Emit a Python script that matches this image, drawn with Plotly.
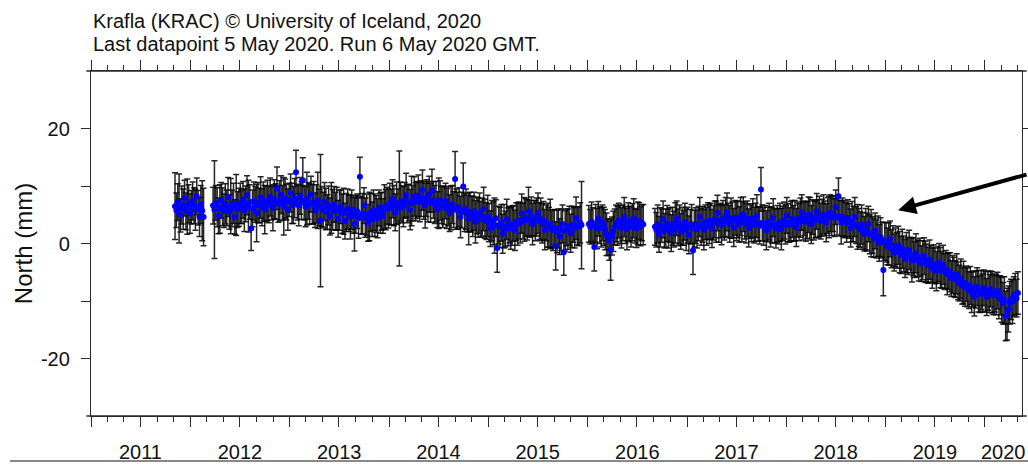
import plotly.graph_objects as go

# ---------------- data ----------------
station_title = "Krafla (KRAC) \u00a9 University of Iceland, 2020"
run_note = "Last datapoint 5 May 2020. Run 6 May 2020 GMT."
y_label = "North (mm)"

# observation segments (start dates); one sample every 5 days
segment_starts = ["2011-11-06", "2012-03-25", "2016-01-06", "2016-09-05"]
sample_step_days = 5

north_1 = [6.5, 5.8, 7.2, 6.1, 4.9, 6.7, 6.0, 7.9, 5.6, 6.4, 6.9, 5.2, 6.3, 7.4, 6.6, 5.9, 8.2, 6.2, 4.6, 6.8, 5.7, 4.6]
err_1 = [5.8, 3.0, 3.2, 6.0, 2.9, 3.3, 3.5, 3.1, 3.2, 4.8, 3.3, 3.4, 2.9, 3.3, 3.1, 3.6, 3.2, 3.0, 3.4, 3.3, 5.2, 5.0]

north_2 = [
    6.6, 5.9, 7.1, 6.3, 4.8, 6.0, 7.5, 6.4, 5.7, 6.9,
    6.2, 8.1, 5.5, 6.5, 6.1, 7.0, 4.6, 6.7, 5.9, 6.3,
    7.0, 6.4, 7.6, 5.8, 6.9, 8.4, 6.5, 7.2, 2.6, 6.1,
    7.4, 6.8, 5.3, 7.1, 6.6, 8.0, 6.3, 7.3, 5.9, 6.9,
    7.5, 6.8, 8.1, 7.0, 6.2, 7.7, 7.3, 9.6, 6.9, 7.4,
    8.5, 7.1, 6.5, 7.8, 7.2, 5.9, 7.6, 8.8, 7.0, 6.7,
    7.9, 12.4, 7.2, 6.6, 8.3, 7.5, 11.0, 7.1, 6.4, 7.8,
    7.4, 6.9, 8.6, 6.8, 7.1, 5.8, 6.9, 7.5, 6.3, 4.0,
    6.4, 5.8, 7.3, 6.0, 5.5, 6.6, 4.7, 6.2, 5.9, 6.8,
    5.6, 6.1, 4.3, 5.8, 6.4, 5.2, 5.6, 3.9, 5.4, 6.0,
    5.3, 4.6, 5.9, 4.9, 3.4, 5.1, 5.6, 4.4, 11.6, 4.8,
    5.2, 6.6, 4.5, 5.0, 3.6, 4.7, 5.4, 4.2, 5.8, 4.9,
    5.1, 4.4, 6.2, 5.3, 5.6, 4.8, 6.4, 5.9, 6.6, 6.1,
    6.9, 6.3, 7.8, 6.6, 5.4, 7.0, 6.5, 6.1, 7.3, 6.8,
    6.4, 7.5, 8.4, 6.9, 7.1, 5.9, 7.4, 7.0, 8.2, 7.3,
    7.6, 8.3, 7.2, 7.8, 9.3, 7.5, 6.6, 7.9, 7.3, 8.6,
    7.1, 9.2, 7.6, 6.8, 7.3, 5.9, 7.0, 7.5, 6.7, 6.4,
    6.6, 7.4, 6.1, 6.5, 5.3, 6.2, 6.8, 5.9, 11.2, 6.0,
    5.7, 6.3, 4.6, 5.8, 9.9, 5.4, 6.0, 5.2, 4.3, 5.5,
    5.1, 4.7, 5.6, 3.8, 4.9, 4.5, 5.3, 4.2, 4.6, 6.0,
    4.3, 3.9, 4.8, 3.6, 2.6, 4.0, 3.5, 3.1, 4.4, -0.8,
    3.2, 2.8, 3.6, 1.7, 3.0, 2.5, 4.2, 2.9, 3.3, 2.6,
    3.1, 3.5, 2.3, 3.8, 3.4, 4.0, 3.6, 5.2, 3.9, 4.2,
    4.5, 4.1, 5.6, 4.3, 4.7, 3.4, 4.4, 4.0, 4.6, 5.3,
    3.9, 4.2, 3.5, 4.0, 2.4, 3.6, 3.2, 2.8, 3.4, 2.5,
    2.3, 2.7, -0.4, 2.1, 2.6, 1.2, 2.4, 3.4, -1.5, 2.2,
    2.8, 2.5, 3.1, 1.8, 2.9, 3.3, 2.7, 4.4, 3.1, 3.0,
    3.6, 3.2,
]
err_2 = [
    3.2, 8.5, 3.0, 3.4, 3.1, 4.2, 3.1, 3.3, 2.9, 3.5,
    3.1, 3.4, 3.0, 4.8, 3.2, 3.5, 3.0, 5.3, 3.1, 3.3,
    3.5, 2.9, 3.2, 3.7, 3.1, 3.4, 4.5, 3.0, 3.8, 3.2,
    3.3, 3.1, 5.0, 3.5, 3.0, 3.6, 3.2, 3.4, 4.2, 3.1,
    3.5, 3.2, 3.3, 2.9, 4.0, 3.4, 3.1, 3.7, 3.2, 3.5,
    3.3, 3.0, 5.0, 3.4, 3.1, 3.6, 2.9, 3.3, 3.5, 3.2,
    3.4, 3.8, 3.1, 3.5, 3.2, 3.3, 3.9, 3.0, 3.5, 4.6,
    3.2, 3.5, 3.1, 3.4, 3.7, 3.0, 3.3, 4.9, 3.2, 11.5,
    3.5, 3.1, 3.3, 3.6, 3.0, 3.4, 3.2, 4.4, 3.5, 3.1,
    3.3, 3.7, 3.2, 3.5, 2.9, 3.4, 4.0, 3.1, 3.3, 3.5,
    3.2, 3.8, 3.4, 3.1, 4.7, 3.3, 3.0, 3.5, 3.4, 3.2,
    3.5, 3.1, 3.4, 3.6, 3.2, 4.2, 3.3, 3.0, 3.5, 3.7,
    3.2, 3.4, 3.1, 3.5, 3.3, 3.0, 3.8, 3.5, 3.2, 3.4,
    3.6, 3.1, 3.3, 3.5, 3.2, 3.7, 3.0, 10.0, 3.4, 3.2,
    3.5, 3.1, 3.8, 3.3, 3.2, 3.5, 4.3, 3.1, 3.4, 3.3,
    3.2, 3.6, 3.4, 3.1, 3.5, 3.3, 3.9, 3.2, 3.5, 3.1,
    3.4, 3.7, 3.2, 3.3, 3.5, 3.1, 4.4, 3.4, 3.2, 3.6,
    3.3, 3.1, 3.5, 3.4, 3.2, 3.8, 3.3, 3.1, 4.8, 3.5,
    3.2, 3.4, 3.6, 3.1, 4.1, 3.3, 3.5, 3.2, 4.5, 3.4,
    3.1, 3.5, 3.3, 3.7, 3.2, 3.4, 3.5, 3.1, 3.3, 3.8,
    3.4, 3.2, 3.6, 3.3, 3.1, 3.5, 3.7, 4.8, 3.2, 4.2,
    3.3, 3.5, 3.2, 3.4, 3.8, 3.1, 3.5, 3.3, 3.2, 3.6,
    3.4, 3.1, 3.5, 3.3, 3.7, 3.2, 3.5, 3.4, 3.1, 3.8,
    3.3, 3.5, 4.2, 3.2, 3.4, 3.6, 3.1, 3.5, 3.3, 3.5,
    3.2, 3.7, 3.4, 3.3, 3.5, 3.1, 3.8, 3.5, 4.3, 3.3,
    3.5, 3.2, 4.2, 3.7, 3.4, 3.1, 3.6, 3.3, 4.0, 3.5,
    3.2, 3.5, 3.4, 3.3, 3.6, 3.1, 3.5, 3.7, 3.3, 3.4,
    3.5, 7.6,
]

north_3 = [
    3.4, 2.9, 3.8, 3.1, -0.6, 3.5, 2.6, 4.3, 3.2, 2.8,
    3.6, 3.0, 2.4, 1.6, 1.1, 0.5, -1.1, 1.3, 2.1, 2.9,
    3.5, 3.1, 4.0, 3.3, 2.7, 3.6, 4.6, 3.2, 2.5, 3.8,
    3.4, 2.9, 3.7, 4.4, 3.1, 2.6, 3.5, 3.9, 3.0, 3.6,
    3.3,
]
err_3 = [
    3.2, 3.0, 3.4, 3.1, 4.2, 3.3, 3.5, 3.0, 3.2, 3.4,
    3.1, 3.3, 3.5, 3.7, 3.2, 3.4, 5.3, 3.3, 3.5, 3.1,
    3.2, 3.4, 3.0, 3.3, 3.5, 3.1, 3.4, 3.2, 3.6, 3.3,
    3.1, 3.5, 3.2, 3.4, 3.0, 3.3, 3.7, 3.2, 3.4, 3.1,
    3.5,
]

north_4 = [
    2.9, 2.4, 3.4, 1.6, 2.8, 3.1, 4.2, 2.2, 2.7, 3.5,
    2.6, 3.2, 1.8, 3.0, 2.5, 3.6, 4.4, 2.8, 3.3, 2.1,
    3.0, 2.7, 3.8, 2.4, 3.2, 1.5, 2.9, 3.4, -1.2, 2.6,
    3.1, 2.5, 3.5, 4.6, 2.9, 3.3, 2.4, 3.7, 3.0, 3.9,
    3.4, 3.9, 2.6, 3.6, 4.2, 3.8, 5.3, 3.5, 4.0, 3.2,
    4.3, 3.7, 4.6, 5.5, 4.0, 3.4, 4.4, 4.1, 2.8, 4.5,
    3.9, 4.2, 3.3, 4.7, 3.8, 5.1, 4.0, 3.5, 4.3, 2.7,
    3.9, 3.5, 4.4, 3.2, 3.7, 4.8, 3.4, 3.1, 9.4, 3.6,
    3.0, 3.5, 2.3, 3.3, 3.8, 2.9, 3.2, 4.5, 3.1, 2.6,
    3.4, 3.0, 3.7, 2.5, 3.5, 4.0, 3.3, 4.9, 3.6, 3.2,
    3.9, 4.3, 3.5, 4.0, 2.8, 4.2, 3.7, 4.5, 5.4, 3.9,
    4.4, 3.8, 4.1, 5.0, 4.3, 3.3, 4.6, 4.0, 4.2, 5.6,
    4.3, 4.7, 3.9, 4.5, 5.1, 4.4, 3.6, 4.9, 4.6, 5.3,
    4.8, 5.2, 4.5, 6.3, 4.7, 8.2, 4.4, 3.7, 4.6, 4.3,
    4.1, 3.6, 4.4, 3.9, 2.7, 3.8, 3.4, 4.6, 3.2, 2.9,
    2.8, 2.4, 3.3, 2.2, 1.7, 2.5, 2.0, 3.4, 1.6, 1.8,
    1.5, 1.0, 2.2, 0.8, 1.3, 0.1, 1.1, 0.6, -4.6, 0.4,
    0.2, -0.5, -0.1, 0.8, -0.9, -0.4, -1.6, -0.7, -1.2, -0.3,
    -1.5, -2.0, -0.9, -1.8, -2.6, -1.6, -2.2, -1.1, -2.0, -2.9,
    -2.3, -2.8, -1.7, -2.6, -3.0, -2.4, -3.5, -2.9, -2.2, -3.2,
    -3.4, -3.8, -2.8, -3.6, -4.3, -3.5, -3.9, -4.8, -3.7, -3.3,
    -4.2, -4.6, -3.7, -4.9, -4.5, -5.3, -4.8, -5.0, -6.1, -5.4,
    -5.8, -6.2, -5.3, -6.5, -6.9, -6.1, -7.3, -6.8, -7.6, -7.0,
    -7.6, -8.1, -7.3, -8.5, -7.9, -9.2, -8.0, -7.5, -8.3, -8.8,
    -8.1, -8.6, -7.7, -8.4, -9.3, -8.2, -8.7, -7.9, -8.5, -9.0,
    -8.6, -8.9, -8.2, -9.4, -9.0, -9.8, -10.4, -9.9, -12.6, -12.3,
    -11.4, -10.3, -9.7, -10.1, -9.2, -8.8, -9.5, -8.6,
]
err_4 = [
    3.2, 3.0, 3.3, 3.1, 3.4, 2.9, 3.2, 3.0, 3.3, 3.1,
    3.4, 3.0, 3.2, 3.3, 3.1, 3.5, 3.0, 3.2, 3.4, 3.1,
    3.3, 3.0, 3.2, 3.6, 3.1, 3.3, 3.0, 3.4, 4.2, 3.2,
    3.1, 3.3, 3.0, 3.4, 3.2, 3.1, 3.5, 3.0, 3.3, 3.2,
    3.4, 3.1, 3.3, 3.0, 3.2, 3.6, 3.1, 3.3, 3.0, 3.4,
    3.2, 3.1, 3.4, 3.3, 3.0, 3.2, 3.5, 3.1, 3.3, 3.0,
    3.4, 3.2, 3.1, 3.3, 3.5, 3.0, 3.2, 3.4, 3.1, 3.3,
    3.0, 3.2, 3.4, 3.1, 3.3, 3.7, 3.0, 3.2, 3.8, 3.1,
    3.3, 3.1, 3.4, 3.0, 3.2, 3.5, 3.1, 3.3, 3.0, 3.4,
    3.2, 3.1, 3.3, 3.6, 3.0, 3.2, 3.4, 3.1, 3.3, 3.0,
    3.4, 3.2, 3.1, 3.5, 3.3, 3.0, 3.2, 3.4, 3.1, 3.3,
    3.0, 3.4, 3.2, 3.1, 3.7, 3.3, 3.0, 3.4, 3.2, 3.1,
    3.3, 3.5, 3.1, 3.2, 3.4, 3.0, 3.3, 3.1, 3.6, 3.2,
    3.4, 3.1, 3.3, 3.0, 3.2, 3.2, 3.1, 3.8, 3.3, 3.2,
    3.1, 3.4, 3.2, 3.0, 3.3, 3.5, 3.1, 3.4, 3.2, 3.9,
    3.3, 3.1, 3.4, 3.2, 3.0, 3.6, 3.3, 3.1, 3.4, 4.1,
    3.2, 3.4, 3.1, 3.3, 3.5, 3.2, 3.4, 3.1, 4.5, 3.3,
    3.4, 3.2, 3.7, 3.1, 3.3, 3.5, 3.2, 3.4, 3.1, 3.3,
    3.6, 3.2, 3.4, 3.1, 3.3, 3.5, 3.2, 3.4, 3.1, 3.8,
    3.3, 3.1, 3.4, 3.2, 3.5, 3.3, 3.1, 3.4, 3.2, 3.6,
    3.3, 3.1, 3.4, 3.2, 3.5, 3.3, 3.1, 3.4, 3.2, 3.3,
    3.5, 3.2, 3.4, 3.1, 3.3, 3.6, 3.2, 3.4, 3.1, 3.3,
    3.4, 3.2, 3.5, 3.3, 3.1, 3.4, 3.2, 3.7, 3.3, 3.1,
    3.4, 3.2, 3.3, 3.5, 3.1, 3.4, 3.2, 3.3, 3.6, 3.2,
    3.4, 3.3, 3.1, 3.5, 3.2, 3.4, 3.3, 3.1, 3.6, 3.4,
    3.3, 3.5, 3.2, 3.7, 3.4, 3.9, 3.6, 4.1, 4.3, 4.5,
    4.0, 3.7, 3.5, 3.8, 3.4, 3.6, 3.3, 3.7,
]

north_segments = [north_1, north_2, north_3, north_4]
err_segments = [err_1, err_2, err_3, err_4]

x_range = ["2011-01-01", "2020-05-17"]
y_range = [-30, 30]
y_tickvals = [-20, -10, 0, 10, 20]
y_ticktext = ["-20", "", "0", "", "20"]
year_label_dates = ["2011-07-02", "2012-07-02", "2013-07-02", "2014-07-02", "2015-07-02",
                    "2016-07-02", "2017-07-02", "2018-07-02", "2019-07-02", "2020-03-09"]
year_labels = ["2011", "2012", "2013", "2014", "2015", "2016", "2017", "2018", "2019", "2020"]
arrow_tip = ("2019-02-16", 5.8)

# ---------------- figure ----------------
FONT = "Liberation Sans, Arial, Helvetica, sans-serif"
AX = "#2a2a2a"
MS_PER_DAY = 86400000

fig = go.Figure()
for start, ys, es in zip(segment_starts, north_segments, err_segments):
    fig.add_trace(go.Scatter(
        x0=start, dx=sample_step_days * MS_PER_DAY, y=ys,
        mode="markers",
        marker=dict(color="#0000ff", size=6, line=dict(width=0)),
        error_y=dict(type="data", array=es, visible=True,
                     color="rgba(0,0,0,0.85)", thickness=1.5, width=3),
        showlegend=False, hoverinfo="x+y",
    ))

# helper trace so the label axis is drawn
fig.add_trace(go.Scatter(x=[], y=[], xaxis="x2", yaxis="y", showlegend=False))

fig.update_layout(
    width=1028, height=464,
    margin=dict(l=91, r=6, t=71, b=48, autoexpand=False),
    paper_bgcolor="white", plot_bgcolor="white",
    font=dict(family=FONT, size=20, color="#111"),
    xaxis=dict(
        type="date", range=x_range, showgrid=False, zeroline=False,
        showline=True, linecolor=AX, linewidth=1.3, mirror="ticks",
        tickmode="linear", tick0="2011-01-01", dtick="M6",
        ticks="outside", ticklen=10, tickwidth=1.3, tickcolor=AX,
        showticklabels=False,
        minor=dict(tickmode="linear", tick0="2011-01-01", dtick="M2",
                   ticks="outside", ticklen=5, tickwidth=1.3, tickcolor=AX),
    ),
    xaxis2=dict(
        type="date", range=x_range, overlaying="x", anchor="y", side="bottom",
        showgrid=False, zeroline=False, showline=False, ticks="",
        tickmode="array", tickvals=year_label_dates, ticktext=year_labels,
        tickfont=dict(size=20, family=FONT, color="#111"),
        ticklabelstandoff=22,
    ),
    yaxis=dict(
        range=y_range, showgrid=False, zeroline=False,
        showline=True, linecolor=AX, linewidth=1.3, mirror="ticks",
        tickmode="array", tickvals=y_tickvals, ticktext=y_ticktext,
        ticks="outside", ticklen=9, tickwidth=1.3, tickcolor=AX,
        tickfont=dict(size=20, family=FONT, color="#111"),
        ticklabelstandoff=7,
        title=dict(text=y_label, font=dict(size=24, family=FONT, color="#111"), standoff=1),
    ),
    annotations=[
        dict(text=station_title, xref="paper", yref="paper", x=0, y=1.1435,
             xanchor="left", yanchor="middle", showarrow=False,
             font=dict(size=20, family=FONT, color="#111")),
        dict(text=run_note, xref="paper", yref="paper", x=0, y=1.0797,
             xanchor="left", yanchor="middle", showarrow=False,
             font=dict(size=20, family=FONT, color="#111")),
        dict(text="", x=arrow_tip[0], y=arrow_tip[1], xref="x", yref="y",
             showarrow=True, arrowhead=2, arrowsize=0.9, arrowwidth=4,
             arrowcolor="black", ax=150, ay=-36, standoff=0),
    ],
    shapes=[
        dict(type="line", xref="paper", yref="paper", x0=-0.005, x1=1.005, y0=1, y1=1,
             line=dict(color=AX, width=1.3)),
        dict(type="line", xref="paper", yref="paper", x0=-0.005, x1=1.005, y0=0, y1=0,
             line=dict(color=AX, width=1.3)),
        dict(type="line", xref="paper", yref="paper", x0=-0.087, x1=1.02, y0=-0.1303, y1=-0.1303,
             line=dict(color="#888888", width=2)),
    ],
)

fig.write_html("out.html")
